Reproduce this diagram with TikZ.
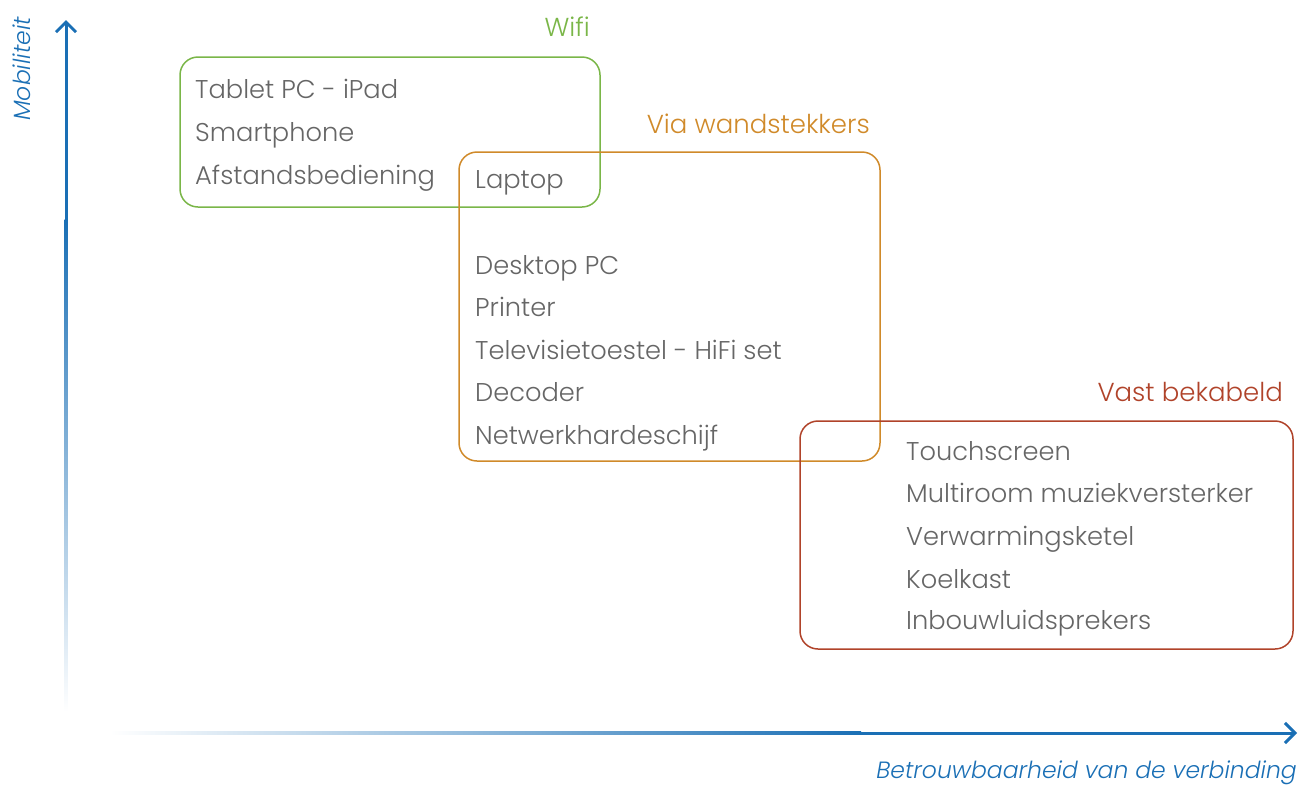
\documentclass[tikz,border=0pt]{standalone}
\usepackage{fontspec}
\setmainfont{Poppins Light}
\usetikzlibrary{arrows.meta}

\definecolor{axisblue}{HTML}{1A6FB5}
\definecolor{wifigreen}{HTML}{7AB648}
\definecolor{plugorange}{HTML}{D08A2A}
\definecolor{cablered}{HTML}{B0432A}
\definecolor{itemgray}{HTML}{666666}

\tikzset{
  zone/.style={draw,line width=1.5pt,rounded corners=18pt},
  item/.style={anchor=base west,inner sep=0pt,text=itemgray,font=\fontsize{25.7}{29}\selectfont},
  zonelabel/.style={anchor=base east,inner sep=0pt,font=\fontsize{26}{29}\selectfont},
  axislabel/.style={inner sep=0pt,text=axisblue,font=\fontsize{23.5}{27}\selectfont\itshape},
  axis/.style={draw=axisblue,line width=3pt,-{Straight Barb[length=10pt,width=20pt]}}
}

\begin{document}
\begin{tikzpicture}[x=1pt,y=-1pt]
\useasboundingbox (0,0) rectangle (1311,785);

% axes
\coordinate (yfade) at (66,220);
\coordinate (ytip) at (66,20);
\coordinate (xfade) at (860,733);
\coordinate (xtip) at (1297,733);
\shade[top color=axisblue,bottom color=white] (64.6,712) rectangle (67.4,219);
\shade[left color=white,right color=axisblue] (110,731.6) rectangle (861,734.4);
\draw[axis] (yfade) -- (ytip);
\draw[axis] (xfade) -- (xtip);
\node[axislabel,rotate=90] (ylab) at (22,69) {Mobiliteit};
\node[axislabel,anchor=base east] (xlab) at (1297,778) {Betrouwbaarheid van de verbinding};

% zones
\draw[zone,wifigreen] (180,57) rectangle (600,207);
\draw[zone,plugorange] (459,152) rectangle (880,461);
\draw[zone,cablered] (800,421) rectangle (1293,649);

\node[zonelabel,text=wifigreen] (wifi) at (590,36) {Wifi};
\node[zonelabel,text=plugorange] (plug) at (870,133) {Via wandstekkers};
\node[zonelabel,text=cablered] (cable) at (1283,401.5) {Vast bekabeld};

% devices
\node[item] (tablet) at (195,98.5) {Tablet PC - iPad};
\node[item] (phone) at (195,141.5) {Smartphone};
\node[item] (remote) at (195,184) {Afstandsbediening};
\node[item] (laptop) at (475,188.5) {Laptop};

\node[item] (desktop) at (475,274) {Desktop PC};
\node[item] (printer) at (475,316.5) {Printer};
\node[item] (tv) at (475,359) {Televisietoestel - HiFi set};
\node[item] (decoder) at (475,401.5) {Decoder};
\node[item] (nas) at (475,444) {Netwerkhardeschijf};

\node[item] (touch) at (906,460) {Touchscreen};
\node[item] (multi) at (906,502) {Multiroom muziekversterker};
\node[item] (boiler) at (906,545) {Verwarmingsketel};
\node[item] (fridge) at (906,588) {Koelkast};
\node[item] (speakers) at (906,629.5) {Inbouwluidsprekers};

\end{tikzpicture}
\end{document}
